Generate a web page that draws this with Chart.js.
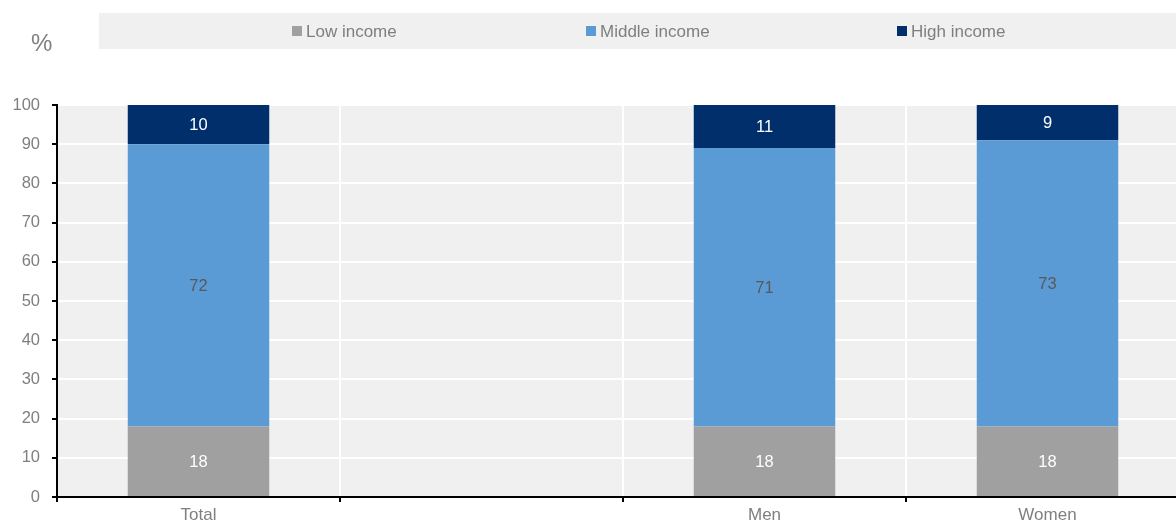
<!DOCTYPE html>
<html lang="en">
<head>
  <meta charset="UTF-8">
  <title>Income groups by sex</title>
  <script src="https://cdn.jsdelivr.net/npm/chart.js"></script>
  <style>
    html, body { margin: 0; padding: 0; background: #ffffff; overflow: hidden; }
    #frame { width: 1176px; height: 523px; overflow: hidden; }
    /* the last category runs a little past the right edge */
    #wrap { position: relative; width: 1189px; height: 523px; }
  </style>
</head>
<body>
  <div id="frame"><div id="wrap"><canvas id="incomeChart"></canvas></div></div>

  <script>
    const categories = ['Total', '', 'Men', 'Women'];
    const seriesNames = ['Low income', 'Middle income', 'High income'];
    const lowIncome = [18, null, 18, 18];
    const middleIncome = [72, null, 71, 73];
    const highIncome = [10, null, 11, 9];
    const yTicks = [0, 10, 20, 30, 40, 50, 60, 70, 80, 90, 100];

    const colors = ['#a0a0a0', '#5b9bd5', '#002f6c'];
    const labelColors = ['#ffffff', '#595959', '#ffffff'];
    const FONT = '"Liberation Sans", Arial, sans-serif';
    const GREY_TEXT = '#7f7f7f';

    // grey panels behind the legend and the plot
    const backdrop = {
      id: 'backdrop',
      beforeDraw(chart) {
        const { ctx, chartArea: a } = chart;
        ctx.save();
        ctx.fillStyle = '#f0f0f0';
        ctx.fillRect(a.left, a.top, a.right - a.left, a.bottom - a.top);
        ctx.fillRect(99, 13, chart.width - 99, 36);
        ctx.restore();
      }
    };

    // legend row + "%" unit label
    const legendRow = {
      id: 'legendRow',
      afterDraw(chart) {
        const { ctx } = chart;
        const xs = [292, 586, 897];
        ctx.save();
        ctx.font = '17px ' + FONT;
        ctx.textBaseline = 'middle';
        ctx.textAlign = 'left';
        chart.data.datasets.forEach((ds, i) => {
          ctx.fillStyle = ds.backgroundColor;
          ctx.fillRect(xs[i], 26, 10, 10);
          ctx.fillStyle = GREY_TEXT;
          ctx.fillText(ds.label, xs[i] + 14, 32);
        });
        ctx.font = '24px ' + FONT;
        ctx.fillText('%', 31, 44);
        ctx.restore();
      }
    };

    // value labels in the middle of each segment
    const segmentLabels = {
      id: 'segmentLabels',
      afterDatasetsDraw(chart) {
        const { ctx } = chart;
        ctx.save();
        ctx.font = '16.5px ' + FONT;
        ctx.textAlign = 'center';
        ctx.textBaseline = 'middle';
        chart.data.datasets.forEach((ds, i) => {
          const meta = chart.getDatasetMeta(i);
          meta.data.forEach((bar, j) => {
            const v = ds.data[j];
            if (v == null) return;
            ctx.fillStyle = labelColors[i];
            ctx.fillText(String(v), bar.x, (bar.y + bar.base) / 2 + 1);
          });
        });
        ctx.restore();
      }
    };

    const makeSet = (i, data) => ({
      label: seriesNames[i],
      data: data,
      backgroundColor: colors[i],
      borderWidth: 0,
      barPercentage: 0.5,
      categoryPercentage: 1
    });

    new Chart(document.getElementById('incomeChart'), {
      type: 'bar',
      data: {
        labels: categories,
        datasets: [
          makeSet(0, lowIncome),
          makeSet(1, middleIncome),
          makeSet(2, highIncome)
        ]
      },
      options: {
        responsive: true,
        maintainAspectRatio: false,
        animation: false,
        layout: { padding: { top: 105, right: 0, left: 0, bottom: 0 } },
        plugins: {
          legend: { display: false },
          tooltip: { enabled: false }
        },
        scales: {
          x: {
            stacked: true,
            afterFit(scale) { scale.height = 26; },
            grid: {
              offset: true,
              color: '#ffffff',
              lineWidth: 2,
              tickColor: '#000000',
              tickLength: 5,
              drawOnChartArea: true
            },
            border: { color: '#000000', width: 2 },
            ticks: {
              color: GREY_TEXT,
              font: { family: FONT, size: 17 },
              padding: 3
            }
          },
          y: {
            stacked: true,
            min: 0,
            max: 100,
            afterFit(scale) { scale.width = 57; },
            afterBuildTicks(scale) { scale.ticks = yTicks.map(v => ({ value: v })); },
            grid: {
              color: '#ffffff',
              lineWidth: 2,
              tickColor: '#000000',
              tickLength: 5
            },
            border: { color: '#000000', width: 2 },
            ticks: {
              color: GREY_TEXT,
              font: { family: FONT, size: 16.5 },
              padding: 12
            }
          }
        }
      },
      plugins: [backdrop, legendRow, segmentLabels]
    });
  </script>
</body>
</html>
